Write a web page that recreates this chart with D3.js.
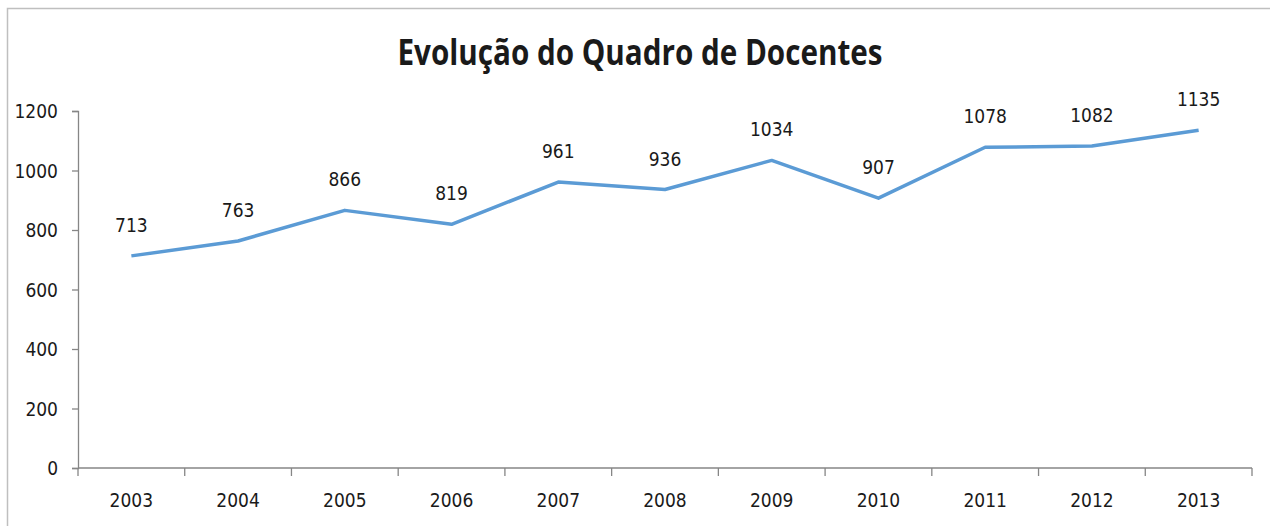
<!DOCTYPE html>
<html>
<head>
<meta charset="utf-8">
<script src="https://cdn.jsdelivr.net/npm/d3@7"></script>
<style>
  body { margin: 0; background: #fff; }
  text { font-family: "Liberation Sans Narrow", "DejaVu Sans Condensed", sans-serif; fill: #1a1a1a; }
</style>
</head>
<body>
<div id="chart"></div>
<script>
let years = ['2003', '2004', '2005', '2006', '2007', '2008', '2009', '2010', '2011', '2012', '2013']
let docentes = [713, 763, 866, 819, 961, 936, 1034, 907, 1078, 1082, 1135]
let yTicks = [0, 200, 400, 600, 800, 1000, 1200]

let margin = { top: 111, left: 78, right: 18, bottom: 58 }
let width = 1270 - margin.left - margin.right
let height = 526 - margin.top - margin.bottom

let root = d3
  .select('#chart')
  .append('svg')
  .attr('width', 1270)
  .attr('height', 526)

// chart frame (only top and left are visible in the picture)
root
  .append('path')
  .attr('d', 'M7.5,526 V8.5 H1270')
  .attr('fill', 'none')
  .attr('stroke', '#bfbfbf')
  .attr('stroke-width', 1.5)

root
  .append('text')
  .attr('x', 640)
  .attr('y', 65)
  .attr('text-anchor', 'middle')
  .attr('textLength', 485)
  .attr('lengthAdjust', 'spacingAndGlyphs')
  .style('font-family', '"Open Sans", sans-serif')
  .style('font-weight', 'bold')
  .style('font-size', '36px')
  .text('Evolução do Quadro de Docentes')

let svg = root
  .append('g')
  .attr('transform', 'translate(' + margin.left + ',' + margin.top + ')')

let xScale = d3.scaleBand().domain(years).range([0, width])
let yScale = d3.scaleLinear().domain([0, 1200]).range([height, 0])

let yAxis = d3
  .axisLeft(yScale)
  .tickValues(yTicks)
  .tickFormat(d3.format('d'))
  .tickSize(6)
  .tickPadding(14)
let yG = svg.append('g').call(yAxis)
yG.select('.domain').attr('stroke', '#868686').attr('stroke-width', 1.3)
yG.selectAll('.tick line').attr('stroke', '#868686').attr('stroke-width', 1.3)
yG.selectAll('.tick text').style('font-size', '19px').attr('dy', '0.35em')

// x axis: tick marks at category boundaries, labels at centres
let xG = svg.append('g').attr('transform', `translate(0,${height})`)
xG.append('line')
  .attr('x1', 0)
  .attr('x2', width)
  .attr('stroke', '#868686')
  .attr('stroke-width', 1.3)
xG.selectAll('.xtick')
  .data(d3.range(years.length + 1))
  .enter()
  .append('line')
  .attr('class', 'xtick')
  .attr('x1', i => i * xScale.step())
  .attr('x2', i => i * xScale.step())
  .attr('y1', 0)
  .attr('y2', 8)
  .attr('stroke', '#868686')
  .attr('stroke-width', 1.3)
xG.selectAll('.xlabel')
  .data(years)
  .enter()
  .append('text')
  .attr('class', 'xlabel')
  .attr('x', d => xScale(d) + xScale.bandwidth() / 2)
  .attr('y', 39)
  .attr('text-anchor', 'middle')
  .style('font-size', '19px')
  .text(d => d)

let points = years.map((d, i) => ({ year: d, value: docentes[i] }))

let line = d3
  .line()
  .x(d => xScale(d.year) + xScale.bandwidth() / 2)
  .y(d => yScale(d.value))

svg
  .append('path')
  .datum(points)
  .attr('d', line)
  .attr('fill', 'none')
  .attr('stroke', '#5b9bd5')
  .attr('stroke-width', 3.5)
  .attr('stroke-linejoin', 'round')

svg
  .selectAll('.label')
  .data(points)
  .enter()
  .append('text')
  .attr('class', 'label')
  .attr('x', d => xScale(d.year) + xScale.bandwidth() / 2)
  .attr('y', d => yScale(d.value) - 24)
  .attr('text-anchor', 'middle')
  .style('font-size', '19px')
  .text(d => d.value)
</script>
</body>
</html>
